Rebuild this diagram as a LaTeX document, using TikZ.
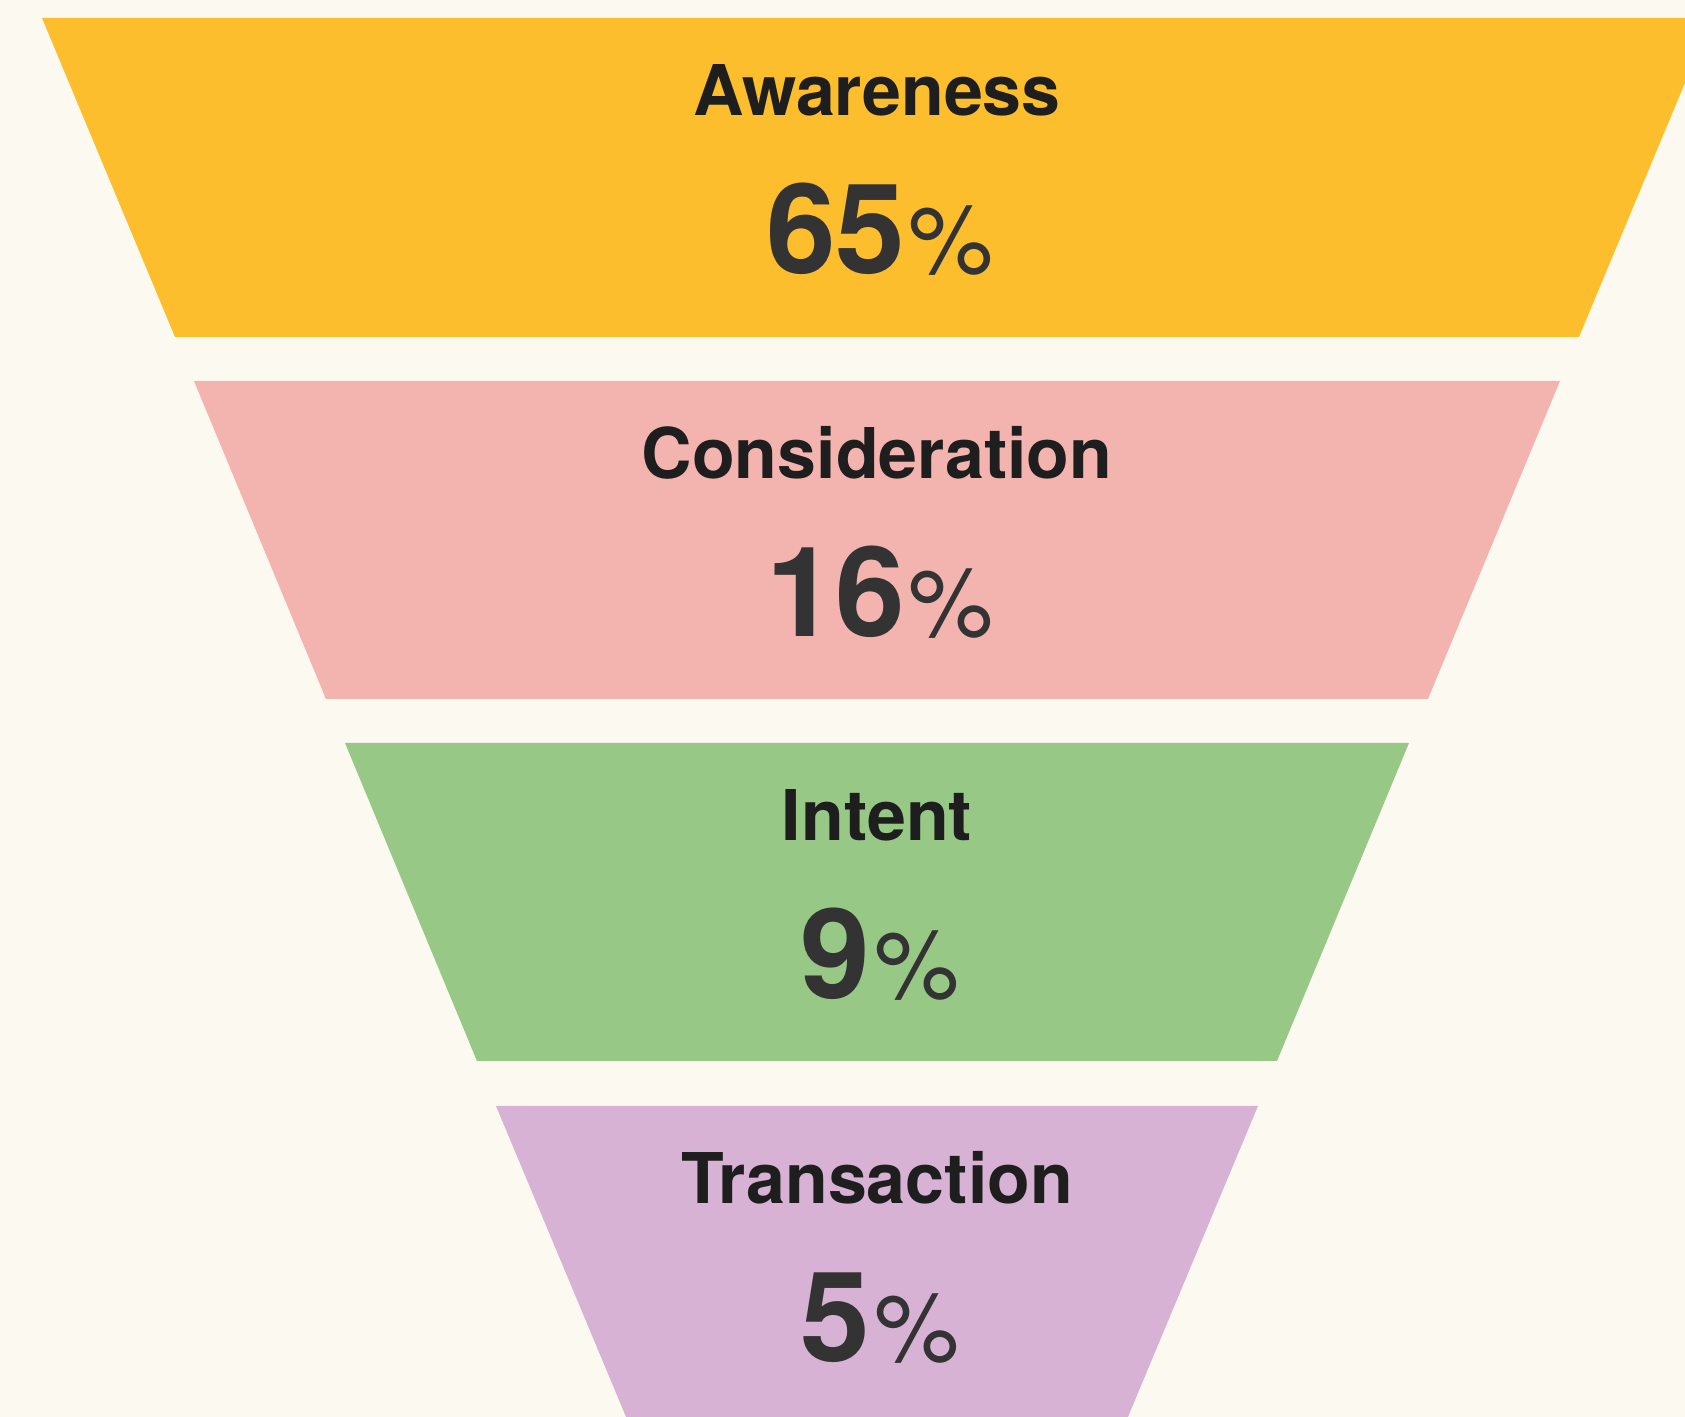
\documentclass[tikz,border=0pt]{standalone}
\usepackage{fontspec}
\setmainfont{TeX Gyre Heros}
\usepackage{xcolor}
\definecolor{bgcream}{HTML}{FCF9F1}
\definecolor{awarecol}{HTML}{FCBE2D}
\definecolor{considcol}{HTML}{F3B4AF}
\definecolor{intentcol}{HTML}{98C886}
\definecolor{transcol}{HTML}{D8B2D5}
\definecolor{namecol}{HTML}{1E1E1E}
\definecolor{pctcol}{HTML}{333333}
\newcommand{\stageshare}[1]{{\bfseries\fontsize{35.6}{40}\selectfont #1}\kern1pt{\fontsize{27.2}{30}\selectfont\%}}

\begin{document}
\begin{tikzpicture}[x={(1cm,0cm)}, y={(0cm,1cm)},
  stagename/.style={anchor=base, text=namecol, inner sep=0pt, font=\bfseries\fontsize{19.9}{24}\selectfont},
  stagevalue/.style={anchor=base, text=pctcol, inner sep=0pt}]
  % Background
  \fill[bgcream] (0,0) rectangle (16.85,14.17);
  \useasboundingbox (0,0) rectangle (16.85,14.17);
  \clip (0,0) rectangle (16.85,14.17);
  % Funnel
  \fill[awarecol] (0.42,13.99) -- (17.12,13.99) -- (15.79,10.80) -- (1.75,10.80) -- cycle;
  \fill[considcol] (1.94,10.36) -- (15.60,10.36) -- (14.28,7.18) -- (3.26,7.18) -- cycle;
  \fill[intentcol] (3.45,6.74) -- (14.09,6.74) -- (12.77,3.56) -- (4.77,3.56) -- cycle;
  \fill[transcol] (4.96,3.11) -- (12.58,3.11) -- (11.25,-0.07) -- (6.29,-0.07) -- cycle;
  % Nodes
  \node[stagename] (Awareness) at (8.77,13.01) {Awareness};
  \node[stagevalue] (AwarenessPct) at (8.80,11.43) {\stageshare{65}};
  \node[stagename] (Consideration) at (8.77,9.38) {Consideration};
  \node[stagevalue] (ConsiderationPct) at (8.80,7.80) {\stageshare{16}};
  \node[stagename] (Intent) at (8.77,5.76) {Intent};
  \node[stagevalue] (IntentPct) at (8.80,4.18) {\stageshare{9}};
  \node[stagename] (Transaction) at (8.77,2.13) {Transaction};
  \node[stagevalue] (TransactionPct) at (8.80,0.55) {\stageshare{5}};
\end{tikzpicture}
\end{document}
